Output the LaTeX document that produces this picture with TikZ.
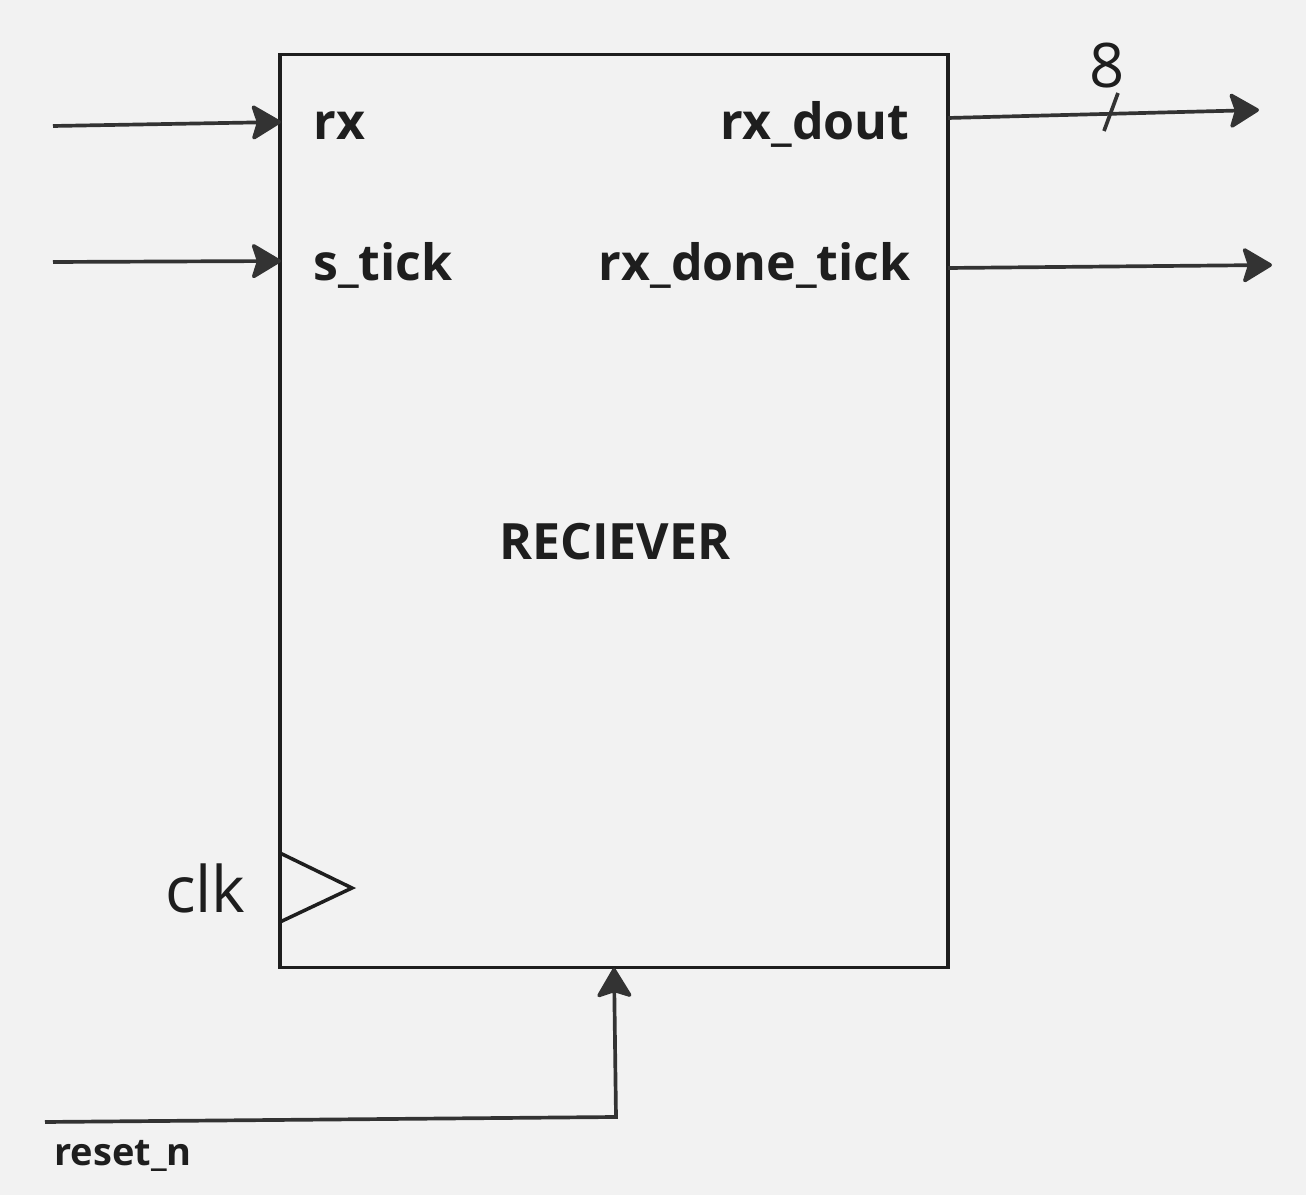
\documentclass[tikz,border=0pt]{standalone}
\usepackage{fontspec}
\setmainfont{Open Sans}
\usetikzlibrary{arrows.meta}

\definecolor{bgcol}{HTML}{F2F2F2}
\definecolor{wirecol}{HTML}{333333}
\definecolor{inkcol}{HTML}{1E1E1E}

\tikzset{
  wire/.style={line width=2.1pt, draw=wirecol, -{Stealth[length=0.64cm, width=0.76cm, inset=0.12cm, round]}},
  plainwire/.style={line width=2.1pt, draw=wirecol},
  portlabel/.style={font=\bfseries\fontsize{28.5}{30}\selectfont, text=inkcol, inner sep=0pt},
}

\begin{document}
\begin{tikzpicture}[x=0.02cm, y=-0.02cm]
        \fill[bgcol] (0,0) rectangle (1306,1195);
        \useasboundingbox (0,0) rectangle (1306,1195);

        % receiver block
        \node (rcv) [draw=inkcol, line width=1.8pt, minimum width=13.36cm, minimum height=18.28cm, inner sep=0pt] at (614,511) {};
        \node (title) [portlabel, anchor=base] at (615,560) {RECIEVER};

        % port labels
        \node (rx)    [portlabel, anchor=base west] at (313,140) {rx};
        \node (stick) [portlabel, anchor=base west] at (313,281) {s\_tick};
        \node (dout)  [portlabel, anchor=base east] at (910,140) {rx\_dout};
        \node (done)  [portlabel, anchor=base east] at (911,281) {rx\_done\_tick};

        % free ends of the wires
        \coordinate (rxsrc)   at (53,126);
        \coordinate (rxin)    at (281,122);
        \coordinate (ticksrc) at (53,262);
        \coordinate (tickin)  at (281,261);
        \coordinate (doutout) at (948,118);
        \coordinate (doutend) at (1259,110);
        \coordinate (doneout) at (948,268);
        \coordinate (doneend) at (1272,265);
        \coordinate (rstsrc)  at (45,1122);
        \coordinate (rstbend) at (616,1117);
        \coordinate (rstin)   at (614,968);

        \draw[wire] (rxsrc) -- (rxin);
        \draw[wire] (ticksrc) -- (tickin);
        \draw[wire] (doutout) -- (doutend);
        \draw[wire] (doneout) -- (doneend);
        \draw[wire] (rstsrc) -- (rstbend) -- (rstin);

        % bus width mark
        \coordinate (slashtop) at (1118,93);
        \coordinate (slashbot) at (1104,131);
        \draw[plainwire] (slashtop) -- (slashbot);
        \node (width) [font=\fontsize{35}{36}\selectfont, text=inkcol, inner sep=0pt, anchor=base] at (1107,88) {8};

        % clock input
        \coordinate (clka) at (280,853);
        \coordinate (clkb) at (352,888);
        \coordinate (clkc) at (280,922);
        \draw[draw=inkcol, line width=2pt] (clka) -- (clkb) -- (clkc);
        \node (clk) [font=\fontsize{36.5}{38}\selectfont, text=inkcol, inner sep=0pt, anchor=base east] at (246,913) {clk};

        \node (rst) [font=\bfseries\fontsize{21.6}{23}\selectfont, text=inkcol, inner sep=0pt, anchor=base west] at (54,1165) {reset\_n};
\end{tikzpicture}
\end{document}
